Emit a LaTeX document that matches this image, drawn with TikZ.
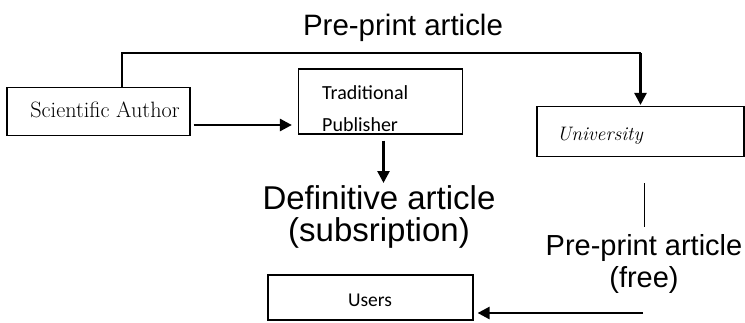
\documentclass[tikz,border=0pt]{standalone}
\usepackage{fontspec}
\usepackage{tikz}
\usetikzlibrary{arrows.meta,positioning}
\newfontfamily\arialfont{Liberation Sans}
\newfontfamily\calibrifont{Carlito}

\tikzset{
  box/.style={draw=black, line width=1.2pt, inner sep=0pt},
  flow/.style={draw=black, line width=2.6pt, -{Triangle[length=12pt,width=12pt]}},
  biglabel/.style={inner sep=0pt, align=center, font=\arialfont\fontsize{#1}{32}\selectfont},
}

\begin{document}
\begin{tikzpicture}[x=1pt,y=1pt]
        \useasboundingbox (0,0) rectangle (745,-322);

        % boxes
        \node[box, minimum width=183pt, minimum height=48pt] (author) at (98.5,-111.5) {};
        \node[anchor=base, inner sep=0pt, font=\fontsize{22.2}{26}\selectfont] (authortext) at (105,-117) {Scientific Author};

        \node[box, minimum width=164pt, minimum height=65pt] (pub) at (380.5,-101.5) {};
        \node[anchor=south west, inner sep=0pt, align=left, font=\calibrifont\fontsize{20}{32}\selectfont] (pubtext) at (322,-132) {Traditional\\Publisher};

        \node[box, minimum width=207pt, minimum height=50pt] (univ) at (640.5,-131.5) {};
        \node[anchor=base west, inner sep=0pt, font=\itshape\fontsize{19.5}{23}\selectfont] (univtext) at (557,-140) {University};

        \node[box, minimum width=205pt, minimum height=45pt] (users) at (370.5,-297.5) {};
        \node[anchor=base, inner sep=0pt, font=\calibrifont\fontsize{19.5}{23}\selectfont] (userstext) at (370,-306) {Users};

        % labels
        \node[biglabel=29.5, anchor=base] (preprint) at (403,-35) {Pre-print article};
        \node[biglabel=33, anchor=north] (definitive) at (379,-185) {Definitive article\\(subsription)};
        \node[biglabel=29, anchor=north] (free) at (644,-234) {Pre-print article\\(free)};

        % connectors
        \coordinate (turn) at (400,-53);
        \coordinate (corner) at (univ.north |- turn);
        \coordinate (freeend) at (643,-313);

        \draw[black, line width=1.5pt] ([xshift=23.5pt]author.north) |- (corner);
        \draw[flow, shorten >=1pt] (corner) -- (univ.north);
        \draw[flow, shorten <=3pt, shorten >=6pt]
            ([yshift=-13.5pt]author.east) -- ([yshift=-13.5pt]author.east -| pub.west);
        \draw[flow, shorten <=6pt, shorten >=2pt]
            ([xshift=3pt]pub.south) -- ([xshift=3pt]pub.south |- definitive.north);
        \draw[black, line width=0.8pt, shorten <=26pt, shorten >=7pt]
            (free.north |- univ.south) -- (free.north);
        \draw[flow, shorten >=4pt] (freeend) -- (freeend -| users.east);
\end{tikzpicture}
\end{document}
